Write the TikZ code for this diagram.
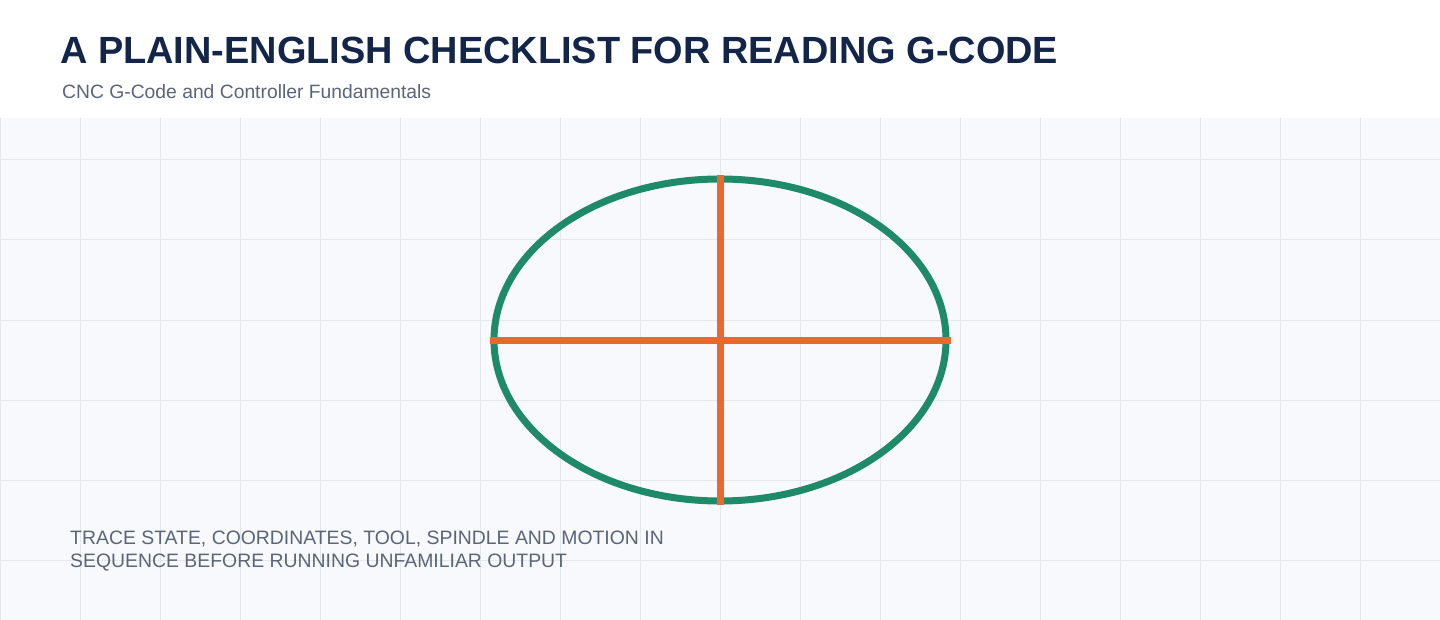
\documentclass[tikz,border=0pt]{standalone}
\usepackage{fontspec}
\setmainfont{Liberation Sans}
\definecolor{navy}{HTML}{13264A}
\definecolor{subgray}{HTML}{5B6578}
\definecolor{panelbg}{HTML}{F7F9FC}
\definecolor{gridc}{HTML}{E3E7EE}
\definecolor{ringgreen}{HTML}{1E8A68}
\definecolor{crossorange}{HTML}{E8692F}
\tikzset{
  titletext/.style={anchor=base west, inner sep=0pt, text=navy, font=\fontsize{37.9}{44}\selectfont\bfseries},
  subtext/.style={anchor=base west, inner sep=0pt, text=subgray, font=\fontsize{19.3}{22}\selectfont},
  notetext/.style={anchor=base west, inner sep=0pt, text=subgray, font=\fontsize{19.4}{23}\selectfont},
  ring/.style={draw=ringgreen, line width=7pt},
  crossline/.style={draw=crossorange, line width=7pt},
}
\begin{document}
\begin{tikzpicture}[x=1pt,y=-1pt]
\useasboundingbox (0,0) rectangle (1440,620);
\fill[white] (0,0) rectangle (1440,118);
\fill[panelbg] (0,118) rectangle (1440,620);
\begin{scope}
\clip (0,118) rectangle (1440,620);
\foreach \gx in {0,80,...,1440} \draw[gridc, line width=1pt] (\gx,118) -- (\gx,620);
\foreach \gy in {160,240,...,560} \draw[gridc, line width=1pt] (0,\gy) -- (1440,\gy);
\end{scope}
\node[titletext] (title) at (60,63.3) {A PLAIN-ENGLISH CHECKLIST FOR READING G-CODE};
\node[subtext] (subtitle) at (62,98.3) {CNC G-Code and Controller Fundamentals};
\coordinate (c) at (720,340);
\draw[ring] (c) ellipse [x radius=226, y radius=161];
\coordinate (hl) at (490,340);
\coordinate (hr) at (951,340);
\coordinate (vt) at (720,175);
\coordinate (vb) at (720,505);
\draw[crossline] (hl) -- (hr);
\draw[crossline] (vt) -- (vb);
\node[notetext] (note1) at (70,544) {TRACE STATE, COORDINATES, TOOL, SPINDLE AND MOTION IN};
\node[notetext] (note2) at (70,567) {SEQUENCE BEFORE RUNNING UNFAMILIAR OUTPUT};
\end{tikzpicture}
\end{document}
